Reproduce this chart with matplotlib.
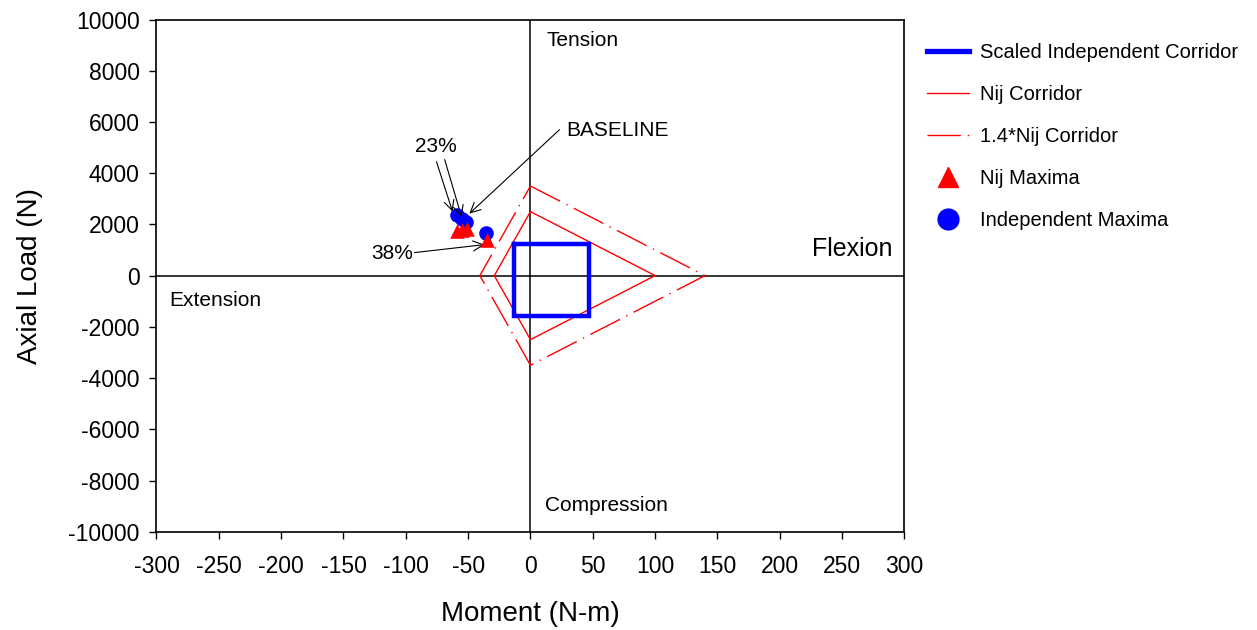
import matplotlib
matplotlib.use("Agg")
import matplotlib.pyplot as plt
from matplotlib.lines import Line2D

plt.rcParams['font.family'] = ['Liberation Sans', 'DejaVu Sans']
plt.rcParams['axes.unicode_minus'] = False

# Corridors (Moment N-m, Axial N)
scaled_x = [-13.5, 47, 47, -13.5, -13.5]
scaled_y = [1250, 1250, -1560, -1560, 1250]

nij_x = [0, 100, 0, -29, 0]
nij_y = [2500, 0, -2500, 0, 2500]

nij14_x = [0, 140, 0, -40.6, 0]
nij14_y = [3500, 0, -3500, 0, 3500]

# Maxima points
nij_max_x = [-59, -55, -51, -35]
nij_max_y = [1750, 1800, 1820, 1400]
ind_max_x = [-59, -55, -52, -36]
ind_max_y = [2350, 2200, 2100, 1650]

x_ticks = list(range(-300, 301, 50))
y_ticks = list(range(-10000, 10001, 2000))

fig = plt.figure(figsize=(12.57, 6.30), dpi=100)
ax = fig.add_axes([0.1245, 0.156, 0.595, 0.813])

ax.set_xlim(-300, 300)
ax.set_ylim(-10000, 10000)
ax.set_xticks(x_ticks)
ax.set_yticks(y_ticks)
ax.tick_params(direction='out', length=5, width=1, labelsize=16.5)
ax.tick_params(axis='x', pad=12)
ax.tick_params(axis='y', pad=7)
for s in ax.spines.values():
    s.set_linewidth(1.2)

ax.axhline(0, color='black', lw=1.1, zorder=1)
ax.axvline(0, color='black', lw=1.1, zorder=1)

ax.plot(scaled_x, scaled_y, color='#0000ff', lw=3.2, solid_joinstyle='miter', zorder=3)
ax.plot(nij_x, nij_y, color='red', lw=1.0, zorder=2)
ax.plot(nij14_x, nij14_y, color='red', lw=1.0, dashes=[24, 5, 1, 5], zorder=2)

ax.scatter(nij_max_x, nij_max_y, marker='^', s=110, color='red', zorder=4, linewidths=0)
ax.scatter(ind_max_x, ind_max_y, marker='o', s=110, color='#0000ff', zorder=3, linewidths=0)

arrow = dict(arrowstyle='->', color='black', lw=0.8, mutation_scale=18, shrinkA=0, shrinkB=0)
ax.text(-93, 5040, '23%', fontsize=15, va='center', ha='left')
ax.annotate('', xy=(-62.5, 2500), xytext=(-75.4, 4450), arrowprops=arrow)
ax.annotate('', xy=(-55.3, 2300), xytext=(-68.8, 4530), arrowprops=arrow)
ax.text(29, 5650, 'BASELINE', fontsize=15, va='center', ha='left')
ax.annotate('', xy=(-49, 2420), xytext=(23.3, 5700), arrowprops=arrow)
ax.text(-127.5, 850, '38%', fontsize=15, va='center', ha='left')
ax.annotate('', xy=(-37, 1210), xytext=(-93, 900), arrowprops=arrow)

ax.text(13, 9200, 'Tension', fontsize=15, va='center', ha='left')
ax.text(12, -8980, 'Compression', fontsize=15, va='center', ha='left')
ax.text(-290, -970, 'Extension', fontsize=15, va='center', ha='left')
ax.text(226, 1030, 'Flexion', fontsize=18, va='center', ha='left')

ax.set_xlabel('Moment (N-m)', fontsize=20, labelpad=16)
ax.set_ylabel('Axial Load (N)', fontsize=20, labelpad=18)

handles = [
    Line2D([], [], color='#0000ff', lw=3.8),
    Line2D([], [], color='red', lw=1.0),
    Line2D([], [], color='red', lw=1.0, dashes=[24, 5, 1, 5]),
    Line2D([], [], color='red', marker='^', ls='none', markersize=14),
    Line2D([], [], color='#0000ff', marker='o', ls='none', markersize=15),
]
labels = ['Scaled Independent Corridor', 'Nij Corridor', '1.4*Nij Corridor',
          'Nij Maxima', 'Independent Maxima']
fig.legend(handles, labels, loc='upper left', bbox_to_anchor=(0.731, 0.945),
           frameon=False, fontsize=14.5, handlelength=2.1, labelspacing=1.15,
           handletextpad=0.55, borderaxespad=0)

fig.savefig('out.png', dpi=100)
